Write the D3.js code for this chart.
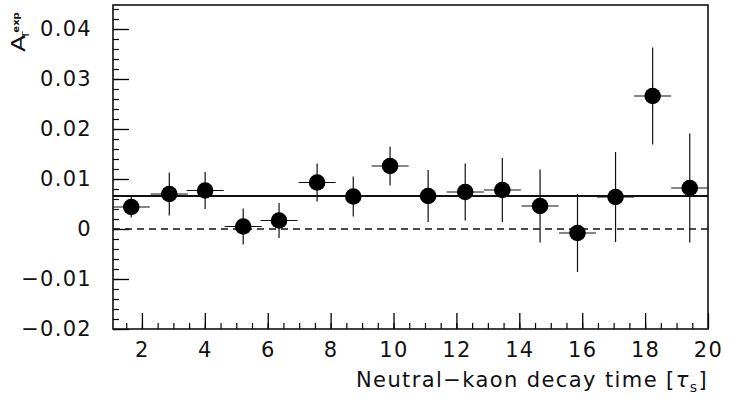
<!DOCTYPE html>
<html>
<head>
<meta charset="utf-8">
<script src="https://cdn.jsdelivr.net/npm/d3@7"></script>
<style>
  body { margin: 0; background: #fff; }
  svg { display: block; }
  text { font-family: "DejaVu Sans", sans-serif; fill: #111; }
</style>
</head>
<body>
<svg width="731" height="398"></svg>
<script>
// data
const decayTime = [1.66, 2.87, 4.01, 5.22, 6.36, 7.57, 8.72, 9.89, 11.10, 12.28, 13.46, 14.66, 15.85, 17.06, 18.24, 19.42];
const asymmetry = [0.0044, 0.0070, 0.0077, 0.0005, 0.0017, 0.0093, 0.0065, 0.0126, 0.0066, 0.0074, 0.0078, 0.0046, -0.0008, 0.0064, 0.0266, 0.0082];
const asymErr   = [0.0021, 0.0043, 0.0037, 0.0036, 0.0035, 0.0038, 0.0040, 0.0039, 0.0052, 0.0057, 0.0064, 0.0073, 0.0078, 0.0090, 0.0097, 0.0109];
const binHalfWidth = 0.59;
const fitValue = 0.0066;
const yTicks = [-0.02, -0.01, 0, 0.01, 0.02, 0.03, 0.04];
const xTicks = [2, 4, 6, 8, 10, 12, 14, 16, 18, 20];

const svg = d3.select("svg");
const margin = {top: 5, right: 23, bottom: 69, left: 113};
const width = 731 - margin.left - margin.right,
      height = 398 - margin.top - margin.bottom;

const x = d3.scaleLinear().domain([1.08, 20]).range([0, width]);
const y = d3.scaleLinear().domain([-0.02, 0.0448]).range([height, 0]);

const g = svg.append("g").attr("transform", `translate(${margin.left},${margin.top})`);

// minor ticks
g.append("g")
  .call(d3.axisLeft(y).tickValues(d3.range(-0.02, 0.0441, 0.002)).tickFormat("").tickSizeInner(-6).tickSizeOuter(0))
  .call(a => a.select(".domain").remove())
  .selectAll("line").attr("stroke-width", 1.2);
g.append("g")
  .attr("transform", `translate(0,${height})`)
  .call(d3.axisBottom(x).tickValues(d3.range(1.5, 20, 0.5)).tickFormat("").tickSizeInner(-6).tickSizeOuter(0))
  .call(a => a.select(".domain").remove())
  .selectAll("line").attr("stroke-width", 1.2);

// major ticks + labels
const fmtY = d => d === 0 ? "0" : d3.format(".2f")(d).replace("-", "\u2212");
g.append("g")
  .call(d3.axisLeft(y).tickValues(yTicks).tickFormat(fmtY).tickSizeInner(-16).tickSizeOuter(0).tickPadding(21))
  .call(a => a.select(".domain").remove())
  .call(a => a.selectAll("line").attr("stroke-width", 1.3))
  .call(a => a.selectAll("text").style("font-size", "21px").style("letter-spacing", "1.3px").attr("fill", "#111"));
g.append("g")
  .attr("transform", `translate(0,${height})`)
  .call(d3.axisBottom(x).tickValues(xTicks).tickSizeInner(-16).tickSizeOuter(0).tickPadding(13))
  .call(a => a.select(".domain").remove())
  .call(a => a.selectAll("line").attr("stroke-width", 1.3))
  .call(a => a.selectAll("text").style("font-size", "21px").style("letter-spacing", "1.3px").attr("fill", "#111"));

// frame
g.append("rect")
  .attr("width", width).attr("height", height)
  .attr("fill", "none").attr("stroke", "#111").attr("stroke-width", 1.6);

// zero line and fit
g.append("line")
  .attr("x1", 0).attr("x2", width).attr("y1", y(0)).attr("y2", y(0))
  .attr("stroke", "#111").attr("stroke-width", 1.3).attr("stroke-dasharray", "7,5");
g.append("line")
  .attr("x1", 0).attr("x2", width).attr("y1", y(fitValue)).attr("y2", y(fitValue))
  .attr("stroke", "#111").attr("stroke-width", 1.8);

// error bars
const pts = decayTime.map((t, i) => ({t, a: asymmetry[i], e: asymErr[i]}));
const bars = g.append("g").attr("stroke", "#111").attr("stroke-width", 1.2);
bars.selectAll(".v").data(pts).enter().append("line")
  .attr("x1", d => x(d.t)).attr("x2", d => x(d.t))
  .attr("y1", d => y(d.a - d.e)).attr("y2", d => y(d.a + d.e));
bars.selectAll(".h").data(pts).enter().append("line")
  .attr("x1", d => x(d.t - binHalfWidth)).attr("x2", d => x(d.t + binHalfWidth))
  .attr("y1", d => y(d.a)).attr("y2", d => y(d.a));

// markers
g.append("g").selectAll("circle").data(pts).enter().append("circle")
  .attr("cx", d => x(d.t)).attr("cy", d => y(d.a)).attr("r", 8.3)
  .attr("fill", "#000");

// x title
const xt = svg.append("text")
  .attr("x", 708).attr("y", 387)
  .attr("text-anchor", "end")
  .style("font-size", "21px")
  .style("letter-spacing", "1.4px");
xt.append("tspan").text("Neutral\u2212kaon decay time [");
xt.append("tspan").style("font-style", "italic").text("\u03c4");
xt.append("tspan").attr("dy", 5).style("font-size", "14px").text("s");
xt.append("tspan").attr("dy", -5).text("]");

// y title, rotated and stretched a bit along the text
const yt = svg.append("g").attr("transform", "translate(25,52) rotate(-90) scale(1.25,1)");
yt.append("text").attr("x", 0).attr("y", 0).style("font-size", "20px").text("A");
yt.append("text").attr("x", 11).attr("y", 4).style("font-size", "9px").text("T");
yt.append("text").attr("x", 15.5).attr("y", -6).style("font-size", "8px").style("font-weight", "bold").text("exp");
</script>
</body>
</html>
